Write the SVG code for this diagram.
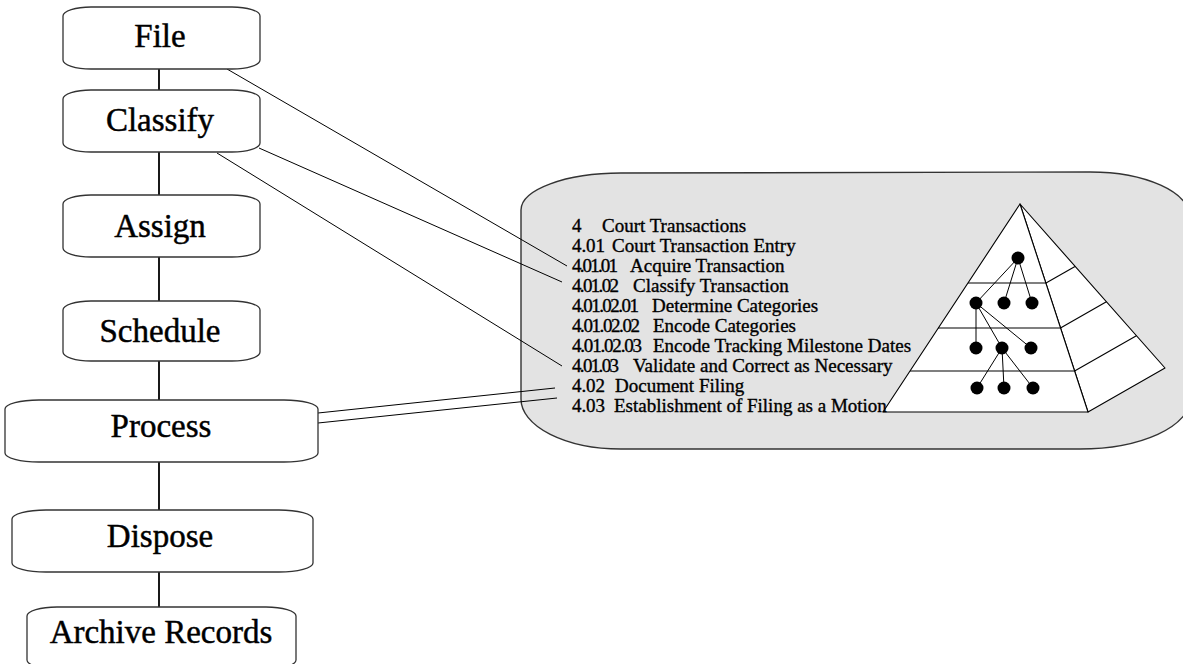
<svg xmlns="http://www.w3.org/2000/svg" width="1183" height="664" viewBox="0 0 1183 664">
  <style>
    .box { fill: #ffffff; stroke: #333333; stroke-width: 1.3; }
    .step { font-family: "Liberation Serif", serif; font-size: 33px; fill: #000000; stroke: #000000; stroke-width: 0.45; text-anchor: middle; }
    .spine { stroke: #000000; stroke-width: 1.8; fill: none; }
    .link { stroke: #000000; stroke-width: 1; fill: none; }
    .panel { fill: #e3e3e3; stroke: #333333; stroke-width: 1.4; }
    .item { font-family: "Liberation Serif", serif; font-size: 19px; fill: #000000; stroke: #000000; stroke-width: 0.35; }
    .pyr { fill: #ffffff; stroke: #000000; stroke-width: 1.1; stroke-linejoin: round; }
    .tier { stroke: #000000; stroke-width: 1.1; fill: none; }
    .tree { stroke: #000000; stroke-width: 1; fill: none; }
    .dot { fill: #000000; }
  </style>

  <!-- outline panel -->
  <g id="outline-panel">
    <path class="panel" d="M 521,210 A 100 37 0 0 1 621,173 L 1090,172 A 100 45 0 0 1 1190,217 L 1190,399 A 110 50 0 0 1 1080,449 L 621,449 A 100 50 0 0 1 521,399 Z"/>
  </g>

  <!-- connectors -->
  <g id="connectors">
    <line class="spine" x1="159" y1="69" x2="159" y2="90"/>
    <line class="spine" x1="159" y1="152" x2="159" y2="195"/>
    <line class="spine" x1="159" y1="257" x2="159" y2="301"/>
    <line class="spine" x1="159" y1="361" x2="159" y2="400"/>
    <line class="spine" x1="159" y1="462" x2="159" y2="510"/>
    <line class="spine" x1="159" y1="572" x2="159" y2="607"/>
    <line class="link" x1="227" y1="69" x2="567" y2="266"/>
    <line class="link" x1="259" y1="148" x2="562" y2="282"/>
    <line class="link" x1="217" y1="153" x2="562" y2="366"/>
    <line class="link" x1="318" y1="413" x2="555" y2="388"/>
    <line class="link" x1="318" y1="423" x2="557" y2="398"/>
  </g>

  <!-- process steps -->
  <g id="node-file">
    <rect class="box" x="63" y="7" width="197" height="62" rx="28" ry="9"/>
    <text class="step" x="160" y="47">File</text>
  </g>
  <g id="node-classify">
    <rect class="box" x="63" y="90" width="197" height="62" rx="28" ry="9"/>
    <text class="step" x="160" y="131">Classify</text>
  </g>
  <g id="node-assign">
    <rect class="box" x="63" y="195" width="197" height="62" rx="28" ry="9"/>
    <text class="step" x="160" y="237">Assign</text>
  </g>
  <g id="node-schedule">
    <rect class="box" x="63" y="301" width="197" height="60" rx="28" ry="9"/>
    <text class="step" x="160" y="342">Schedule</text>
  </g>
  <g id="node-process">
    <rect class="box" x="5" y="400" width="313" height="62" rx="34" ry="9"/>
    <text class="step" x="161" y="437">Process</text>
  </g>
  <g id="node-dispose">
    <rect class="box" x="12" y="510" width="301" height="62" rx="34" ry="9"/>
    <text class="step" x="160" y="547">Dispose</text>
  </g>
  <g id="node-archive">
    <rect class="box" x="27" y="607" width="269" height="62" rx="30" ry="9"/>
    <text class="step" x="161" y="643">Archive Records</text>
  </g>

  <!-- hierarchy pyramid -->
  <g id="pyramid">
    <polygon class="pyr" points="1020,204 1088,412 1165,368"/>
    <polygon class="pyr" points="1020,204 883,412 1088,412"/>
    <line class="tier" x1="968" y1="283" x2="1046" y2="283"/>
    <line class="tier" x1="1046" y1="283" x2="1075" y2="266.4"/>
    <line class="tier" x1="938" y1="328" x2="1060.5" y2="328"/>
    <line class="tier" x1="1060.5" y1="328" x2="1106.4" y2="301.8"/>
    <line class="tier" x1="910" y1="371" x2="1074.6" y2="371"/>
    <line class="tier" x1="1074.6" y1="371" x2="1136.4" y2="335.7"/>
    <line class="tree" x1="1018" y1="258" x2="976" y2="303"/>
    <line class="tree" x1="1018" y1="258" x2="1004" y2="303"/>
    <line class="tree" x1="1018" y1="258" x2="1032" y2="303"/>
    <line class="tree" x1="976" y1="303" x2="976" y2="348"/>
    <line class="tree" x1="976" y1="303" x2="1002" y2="348"/>
    <line class="tree" x1="976" y1="303" x2="1031" y2="348"/>
    <line class="tree" x1="1002" y1="348" x2="977" y2="388"/>
    <line class="tree" x1="1002" y1="348" x2="1004" y2="388"/>
    <line class="tree" x1="1002" y1="348" x2="1033" y2="388"/>
    <circle class="dot" cx="1018" cy="258" r="6.5"/>
    <circle class="dot" cx="976" cy="303" r="6.5"/>
    <circle class="dot" cx="1004" cy="303" r="6.5"/>
    <circle class="dot" cx="1032" cy="303" r="6.5"/>
    <circle class="dot" cx="976" cy="348" r="6.5"/>
    <circle class="dot" cx="1002" cy="348" r="6.5"/>
    <circle class="dot" cx="1031" cy="348" r="6.5"/>
    <circle class="dot" cx="977" cy="388" r="6.5"/>
    <circle class="dot" cx="1004" cy="388" r="6.5"/>
    <circle class="dot" cx="1033" cy="388" r="6.5"/>
  </g>

  <!-- outline entries -->
  <g id="outline-text">
    <text class="item" y="232"><tspan x="572">4</tspan><tspan x="602">Court Transactions</tspan></text>
    <text class="item" y="252"><tspan x="572" textLength="33">4.01</tspan><tspan x="612">Court Transaction Entry</tspan></text>
    <text class="item" y="272"><tspan x="572" textLength="46">4.01.01</tspan><tspan x="630">Acquire Transaction</tspan></text>
    <text class="item" y="292"><tspan x="572" textLength="47">4.01.02</tspan><tspan x="633">Classify Transaction</tspan></text>
    <text class="item" y="312"><tspan x="572" textLength="67">4.01.02.01</tspan><tspan x="652">Determine Categories</tspan></text>
    <text class="item" y="332"><tspan x="572" textLength="68">4.01.02.02</tspan><tspan x="653">Encode Categories</tspan></text>
    <text class="item" y="352"><tspan x="572" textLength="70">4.01.02.03</tspan><tspan x="653">Encode Tracking Milestone Dates</tspan></text>
    <text class="item" y="372"><tspan x="572" textLength="47">4.01.03</tspan><tspan x="633">Validate and Correct as Necessary</tspan></text>
    <text class="item" y="392"><tspan x="572" textLength="33">4.02</tspan><tspan x="615">Document Filing</tspan></text>
    <text class="item" y="412"><tspan x="572" textLength="33">4.03</tspan><tspan x="614">Establishment of Filing as a Motion</tspan></text>
  </g>
</svg>
